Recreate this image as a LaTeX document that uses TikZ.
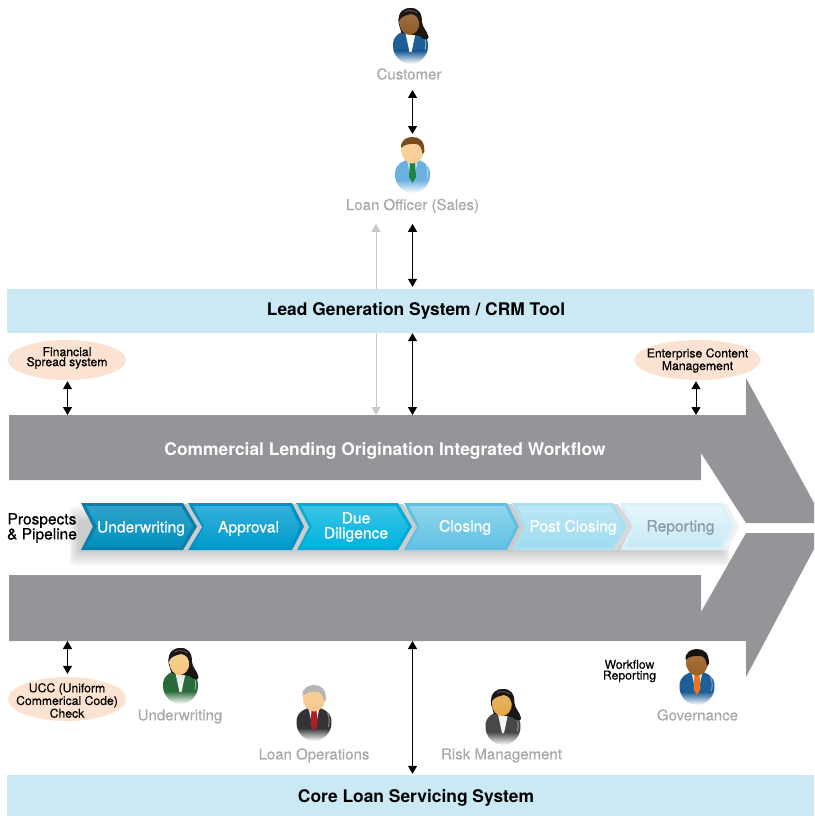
\documentclass[tikz,border=0pt]{standalone}
\usepackage{fontspec}
\setmainfont{TeX Gyre Heros}
\newfontfamily\medfont[FakeBold=0.4]{TeX Gyre Heros}
\newfontfamily\semifont[FakeBold=0.3]{TeX Gyre Heros}
\usetikzlibrary{arrows.meta,positioning,shapes.geometric}
\definecolor{barblue}{HTML}{CBE9F4}
\definecolor{flowgrey}{HTML}{939598}
\definecolor{peach}{HTML}{FCE3D1}
\definecolor{lblgrey}{HTML}{A7A9AC}
\definecolor{arrgrey}{HTML}{C8C8C8}
\definecolor{reptxt}{HTML}{8A9BA5}
\tikzset{
  barnode/.style={fill=barblue,minimum width=807pt,inner sep=0pt},
  headtxt/.style={font=\fontsize{17.4}{18}\selectfont\bfseries,inner sep=0pt},
  oval/.style={ellipse,fill=peach,inner sep=0pt},
  persontxt/.style={font=\fontsize{15}{16}\semifont,text=lblgrey,inner sep=0pt},
  steptxt/.style={font=\fontsize{15.6}{15}\medfont,align=center,inner sep=0pt},
  smalltxt/.style={font=\fontsize{12.2}{10.8}\semifont,align=center,inner sep=0pt,text=black},
  tighttxt/.style={smalltxt,font=\fontsize{12.2}{10}\semifont},
  dbl/.style={{Triangle[length=8pt,width=9pt]}-{Triangle[length=8pt,width=9pt]},line width=1pt,black},
  gup/.style={{Triangle[length=8pt,width=9pt]}-,line width=1pt,arrgrey},
  gdn/.style={-{Triangle[length=8pt,width=9pt]},line width=1pt,arrgrey},
}
\newcommand\pbody{%
  \begin{scope}
    \clip (-17.5,38) .. controls (-18,27) and (-10,24) .. (0,21)
      .. controls (10,24) and (18,27) .. (17.5,38)
      .. controls (17.5,48) and (9,56) .. (0,56)
      .. controls (-9,56) and (-17.5,48) .. (-17.5,38) -- cycle;
    \fill[psuit] (-19,20) rectangle (19,43);
    \shade[top color=psuit,bottom color=white] (-19,43) rectangle (19,56);
  \end{scope}
  \draw[white,opacity=.45,line width=.9pt] (13.5,28) .. controls (15.5,32) and (15.5,37) .. (14.5,42);
  \shade[top color=pshirt,bottom color=pshirt!30!white] (-5.5,23) -- (5.5,23) -- (1,44) -- (-1,44) -- cycle;
}
% name x y suit shirt tie skin hair
\newcommand\pman[8]{%
  \begin{scope}[shift={(#2,#3)}]
    \definecolor{psuit}{HTML}{#4}\definecolor{pshirt}{HTML}{#5}\definecolor{ptie}{HTML}{#6}\definecolor{pskin}{HTML}{#7}\definecolor{phair}{HTML}{#8}%
    \coordinate (#1) at (0,0);
    \pbody
    \fill[ptie] (-2.5,25) -- (2.5,25) -- (3.5,40) -- (0,46) -- (-3.5,40) -- cycle;
    \shade[top color=pskin!85!white,bottom color=pskin] (0,13.5) ellipse (11pt and 13pt);
    \fill[phair] (-11.5,11) .. controls (-12,3) and (-6,0) .. (0,0) .. controls (7,0) and (12.5,4) .. (11.8,15)
       -- (10,17) .. controls (9,10) and (7,7) .. (3,7) .. controls (0,7) and (-7,6) .. (-11.5,11) -- cycle;
  \end{scope}%
}
% name x y suit shirt skin hair
\newcommand\pwoman[7]{%
  \begin{scope}[shift={(#2,#3)}]
    \definecolor{psuit}{HTML}{#4}\definecolor{pshirt}{HTML}{#5}\definecolor{pskin}{HTML}{#6}\definecolor{phair}{HTML}{#7}%
    \coordinate (#1) at (0,0);
    \pbody
    \fill[phair] (-12,15) .. controls (-13,3) and (-6,0) .. (0,0) .. controls (8,0) and (11.5,5) .. (11.5,14)
       .. controls (12,20) and (17,23) .. (18,29) .. controls (18,33) and (13,32) .. (9,28) -- (-9,25) -- cycle;
    \shade[top color=pskin!85!white,bottom color=pskin] (-1,14.5) ellipse (10pt and 12.5pt);
    \fill[phair] (-11.2,12) .. controls (-11.5,3) and (-6,0) .. (0,0) .. controls (7,0) and (11.5,5) .. (10.8,14)
       -- (9,19) .. controls (9,10) and (6,7) .. (1,6) .. controls (-4,7) and (-8,8) .. (-11.2,12) -- cycle;
    \draw[white,opacity=.3,line width=.8pt] (-6,4) .. controls (-3,2) and (3,2) .. (7,5);
  \end{scope}%
}
% left x, top right x, tip x, outer, inner top, inner bottom, shadow strength
\newcommand\chev[7]{%
  \definecolor{chO}{HTML}{#4}\definecolor{chT}{HTML}{#5}\definecolor{chB}{HTML}{#6}%
  \fill[black!#7] ({#1+5},504) -- ({#2+5},504) -- ({#3+5},527) -- ({#2+5},550) -- ({#1+5},550) -- ({#1+17},527) -- cycle;
  \fill[chO] (#1,503) -- (#2,503) -- (#3,526.5) -- (#2,550) -- (#1,550) -- ({#1+12},526.5) -- cycle;
  \shade[top color=chT,bottom color=chB] ({#1+5},506) -- ({#2-2},506) -- ({#3-4},526.5) -- ({#2-2},547) -- ({#1+5},547) -- ({#1+16},526.5) -- cycle;
}
\begin{document}
\begin{tikzpicture}[x=1pt,y=-1pt]
\useasboundingbox (0,0) rectangle (814,816);

\node[barnode,minimum height=44pt] (crm) at (410.5,311) {};
\node[headtxt] (crmtxt) at (416,311) {Lead Generation System / CRM Tool};
\node[barnode,minimum height=41pt] (core) at (410.5,795.5) {};
\node[headtxt] (coretxt) at (416,798) {Core Loan Servicing System};

\fill[flowgrey] (9,415) -- (746,415) -- (746,378) -- (814,503) -- (814,523) -- (746,523) -- (701,453) -- (701,480) -- (9,480) -- cycle;
\fill[flowgrey] (9,575) -- (701,575) -- (701,612) -- (746,533) -- (814,533) -- (814,549) -- (746,677) -- (746,641) -- (9,641) -- cycle;
\node[headtxt,text=white] (wftxt) at (385,451) {Commercial Lending Origination Integrated Workflow};
\coordinate (wfT) at (0,415);
\coordinate (wfB) at (0,641);

\foreach \d in {0,2,...,14}
  \fill[black,opacity=.028,rounded corners=5pt] ({78-\d*.6},{520-\d}) rectangle ({722+\d*.6},{552+\d});
\chev{620}{722}{734}{D8F0F9}{E6F6FB}{C6E9F5}{6}
\chev{512}{613}{627}{AADFF1}{BEE7F5}{9CDBEF}{15}
\chev{404}{507}{519}{62C0E2}{90D5ED}{62C2E3}{20}
\chev{296}{398}{412}{00ADD9}{3CC3E5}{00B4DF}{20}
\chev{188}{292}{304}{0092C6}{35AFDA}{009CCB}{20}
\chev{81}{183}{197}{0B7FA9}{2FA2CA}{0090BD}{20}

\node[steptxt,text=white] (s1) at (141,528.5) {Underwriting};
\node[steptxt,text=white] (s2) at (248.5,528.5) {Approval};
\node[steptxt,text=white] (s3) at (356,527) {Due\\Diligence};
\node[steptxt,text=white] (s4) at (465,527.5) {Closing};
\node[steptxt,text=white] (s5) at (573,527.5) {Post Closing};
\node[steptxt,text=reptxt] (s6) at (680.5,527.5) {Reporting};
\node[font=\fontsize{15.5}{15}\medfont,align=center,inner sep=0pt,text=black] (prospects) at (42,528) {Prospects\\\& Pipeline};

\node[oval,minimum width=118pt,minimum height=40pt] (fin) at (67,360) {};
\node[tighttxt] (fintxt) at (67,358) {Financial\\Spread system};
\node[oval,minimum width=126pt,minimum height=40pt] (ecm) at (697.5,360) {};
\node[tighttxt] (ecmtxt) at (697.5,360.5) {Enterprise Content\\Management};
\node[oval,minimum width=118pt,minimum height=44pt] (ucc) at (67,699) {};
\node[smalltxt] (ucctxt) at (67,700.5) {UCC (Uniform\\Commerical Code)\\Check};
\node[smalltxt] (wfr) at (629.5,671) {Workflow\\Reporting};

\pwoman{pcust}{410.5}{8}{1F5F97}{FFFFFF}{8E5A26}{1E1714}
\pman{poff}{412.5}{137}{6DB0E0}{BBDDF3}{1E8442}{F8CB92}{7A4A1E}
\pwoman{puw}{180.5}{648}{2A6B3C}{E4EAE2}{F6C67E}{1A1614}
\pman{pops}{314}{685}{333335}{F0F0F0}{B01E2A}{F6C88A}{B5B5B5}
\pwoman{prisk}{503}{689}{47484A}{F0F0F0}{E3A748}{1A1614}
\pman{pgov}{697}{649}{1F5F97}{E8EEF2}{EE7420}{9A5F22}{17120F}

\node[persontxt] (lcust) at (409,74) {Customer};
\node[persontxt] (loff) at (412.5,206) {Loan Officer (Sales)};
\node[persontxt] (luw) at (180,716.5) {Underwriting};
\node[persontxt] (lops) at (314,755.5) {Loan Operations};
\node[persontxt] (lrisk) at (501.5,755.5) {Risk Management};
\node[persontxt] (lgov) at (697.5,715) {Governance};

\coordinate (cA) at (412.5,0);
\coordinate (cB) at (376,0);
\coordinate (cL) at (67.5,0);
\coordinate (cR) at (696,0);

\draw[dbl,shorten <=10pt,shorten >=3pt] (lcust.south -| cA) -- (poff -| cA);
\draw[dbl,shorten <=10.5pt,shorten >=2pt] (loff.south -| cA) -- (crm.north -| cA);
\draw[gup,shorten <=10.5pt] (loff.south -| cB) -- (crm.north -| cB);
\draw[gdn] (crm.south -| cB) -- (wfT -| cB);
\draw[dbl] (crm.south -| cA) -- (wfT -| cA);
\draw[dbl,shorten <=1pt] (fin.south -| cL) -- (wfT -| cL);
\draw[dbl,shorten <=1pt] (ecm.south -| cR) -- (wfT -| cR);
\draw[dbl,shorten >=3pt] (wfB -| cL) -- (ucc.north -| cL);
\draw[dbl,shorten >=1pt] (wfB -| cA) -- (core.north -| cA);
\end{tikzpicture}
\end{document}
